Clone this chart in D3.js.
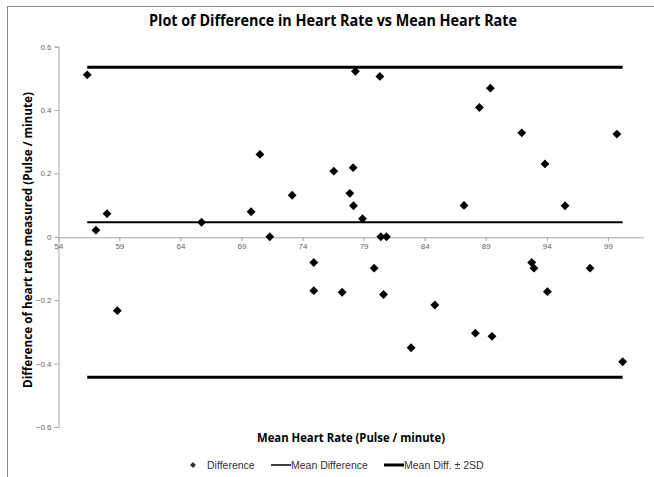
<!DOCTYPE html>
<html>
<head>
<meta charset="utf-8">
<script src="https://cdn.jsdelivr.net/npm/d3@7"></script>
<style>
  body { margin: 0; background: #fff; }
  svg { display: block; font-family: Arial, "Liberation Sans", sans-serif; }
  .axis path, .axis line { stroke: #a6a6a6; }
  .axis text { fill: #666; font-size: 8px; }
</style>
</head>
<body>
<div id="chart"></div>
<script>
// mean heart rate (x) and difference (y) for each subject
var meanRate = [56.37, 57.08, 57.99, 58.83, 65.73, 69.79, 70.51, 71.32, 73.15, 74.92,
  74.92, 76.56, 77.24, 77.87, 78.14, 78.17, 78.33, 78.91, 79.86, 80.33,
  80.41, 80.63, 80.87, 82.89, 84.83, 87.22, 88.15, 88.48, 89.38, 89.51,
  91.95, 92.76, 92.95, 93.85, 94.05, 95.49, 97.54, 99.74, 100.21];
var difference = [0.511, 0.021, 0.073, -0.233, 0.046, 0.079, 0.26, 0.0, 0.131, -0.081,
  -0.17, 0.207, -0.175, 0.137, 0.218, 0.098, 0.522, 0.057, -0.099, 0.506,
  0.0, -0.182, 0.0, -0.35, -0.215, 0.099, -0.304, 0.408, 0.469, -0.314,
  0.328, -0.081, -0.099, 0.23, -0.173, 0.098, -0.099, 0.324, -0.394];
var meanDiff = 0.046;
var limits = [0.535, -0.443];
var xTicks = [54, 59, 64, 69, 74, 79, 84, 89, 94, 99];
var yTicks = [-0.6, -0.4, -0.2, 0, 0.2, 0.4, 0.6];

var width = 654, height = 477;
var svg = d3.select('#chart').append('svg')
  .attr('width', width).attr('height', height);

// outer chart border (only top/left visible in the crop)
svg.append('rect')
  .attr('x', 7.5).attr('y', 6.5)
  .attr('width', 700).attr('height', 500)
  .attr('fill', 'none').attr('stroke', '#888');

var x = d3.scaleLinear().domain([54, 101.9]).range([58.3, 643.3]);
var y = d3.scaleLinear().domain([-0.6, 0.6]).range([427, 46.6]);

// y axis
svg.append('g')
  .attr('class', 'axis')
  .attr('transform', 'translate(' + 58.5 + ',0)')
  .call(d3.axisLeft(y).tickValues(yTicks).tickSize(4).tickPadding(3)
    .tickFormat(function(d) { return d === 0 ? '0' : d3.format('.1f')(d); }));

// x axis sits on zero
svg.append('g')
  .attr('class', 'axis')
  .attr('transform', 'translate(0,' + (y(0) + 0.5) + ')')
  .call(d3.axisBottom(x).tickValues(xTicks).tickSize(4).tickPadding(2).tickSizeOuter(0));

svg.selectAll('.axis .domain').attr('stroke', '#a6a6a6');

var extent = d3.extent(meanRate);

// mean diff +/- 2SD lines
svg.selectAll('.limit')
  .data(limits)
  .enter().append('line')
  .attr('class', 'limit')
  .attr('x1', x(extent[0])).attr('x2', x(extent[1]))
  .attr('y1', function(d) { return y(d); })
  .attr('y2', function(d) { return y(d); })
  .attr('stroke', '#000').attr('stroke-width', 3);

// mean difference line
svg.append('line')
  .attr('x1', x(extent[0])).attr('x2', x(extent[1]))
  .attr('y1', y(meanDiff)).attr('y2', y(meanDiff))
  .attr('stroke', '#000').attr('stroke-width', 2);

// diamonds
var diamond = d3.symbol().type(d3.symbolDiamond2).size(50);
svg.selectAll('.pt')
  .data(meanRate)
  .enter().append('path')
  .attr('class', 'pt')
  .attr('d', diamond)
  .attr('transform', function(d, i) {
    return 'translate(' + x(d) + ',' + y(difference[i]) + ')';
  })
  .attr('fill', '#000');

// title
svg.append('text')
  .attr('x', 333).attr('y', 26)
  .attr('text-anchor', 'middle')
  .attr('font-family', '"Open Sans", sans-serif')
  .attr('font-weight', 'bold').attr('font-size', 15.5)
  .attr('textLength', 368).attr('lengthAdjust', 'spacingAndGlyphs')
  .text('Plot of Difference in Heart Rate vs Mean Heart Rate');

// axis titles
svg.append('text')
  .attr('transform', 'translate(32,240) rotate(-90)')
  .attr('text-anchor', 'middle')
  .attr('font-family', '"Open Sans", sans-serif')
  .attr('font-weight', 'bold').attr('font-size', 11.5)
  .attr('textLength', 296).attr('lengthAdjust', 'spacingAndGlyphs')
  .text('Difference of heart rate measured (Pulse / minute)');

svg.append('text')
  .attr('x', 351).attr('y', 442)
  .attr('text-anchor', 'middle')
  .attr('font-family', '"Open Sans", sans-serif')
  .attr('font-weight', 'bold').attr('font-size', 11.5)
  .attr('textLength', 188).attr('lengthAdjust', 'spacingAndGlyphs')
  .text('Mean Heart Rate (Pulse / minute)');

// legend
var legendY = 465;
var lg = svg.append('g').attr('font-size', 10.5).attr('fill', '#333');
lg.append('path')
  .attr('d', d3.symbol().type(d3.symbolDiamond2).size(22))
  .attr('transform', 'translate(193,' + legendY + ')');
lg.append('text').attr('x', 207).attr('y', legendY + 4).text('Difference');
lg.append('line').attr('x1', 271).attr('x2', 291)
  .attr('y1', legendY).attr('y2', legendY)
  .attr('stroke', '#000').attr('stroke-width', 1.5);
lg.append('text').attr('x', 291).attr('y', legendY + 4).text('Mean Difference');
lg.append('line').attr('x1', 384).attr('x2', 404)
  .attr('y1', legendY).attr('y2', legendY)
  .attr('stroke', '#000').attr('stroke-width', 3);
lg.append('text').attr('x', 404).attr('y', legendY + 4).text('Mean Diff. \u00b1 2SD');
</script>
</body>
</html>
